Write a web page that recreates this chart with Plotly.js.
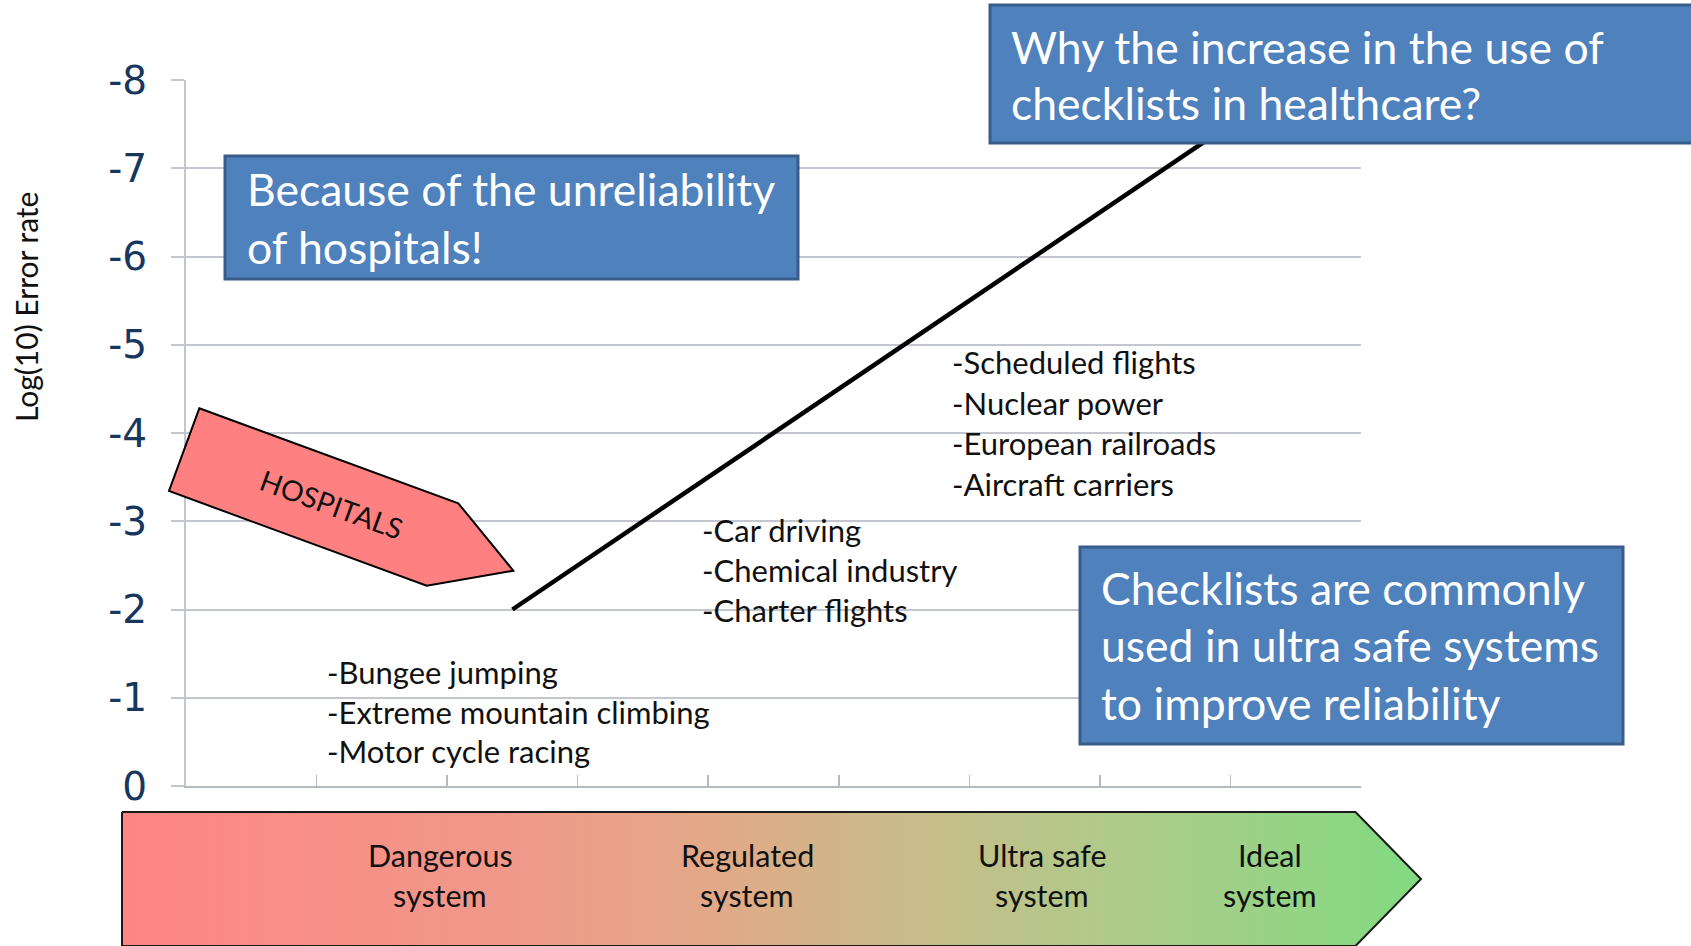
<!DOCTYPE html>
<html>
<head>
<meta charset="utf-8">
<script src="https://cdn.plot.ly/plotly-3.0.1.min.js"></script>
<style>
  html, body { margin: 0; padding: 0; background: #ffffff; }
  #chart { width: 1691px; height: 946px; }
</style>
</head>
<body>
<div id="chart"></div>
<script>
// ---------------- data ----------------
const yTickValues = [0, -1, -2, -3, -4, -5, -6, -7, -8];
const yTickLabels = ['0', '-1', '-2', '-3', '-4', '-5', '-6', '-7', '-8'];
const xTickValues = [0, 1, 2, 3, 4, 5, 6, 7, 8, 9];
const trendX = [2.5, 8.5];
const trendY = [-2, -8];
const dangerousItems = ['-Bungee jumping', '-Extreme mountain climbing', '-Motor cycle racing'];
const regulatedItems = ['-Car driving', '-Chemical industry', '-Charter flights'];
const ultraSafeItems = ['-Scheduled flights', '-Nuclear power', '-European railroads', '-Aircraft carriers'];
const systemLabels = [['Dangerous', 'system'], ['Regulated', 'system'], ['Ultra safe', 'system'], ['Ideal', 'system']];
const boxQuestion = ['Why the increase in the use of', 'checklists in healthcare?'];
const boxBecause = ['Because of the unreliability', 'of hospitals!'];
const boxChecklists = ['Checklists are commonly', 'used in ultra safe systems', 'to improve reliability'];
const arrowLabel = 'HOSPITALS';
const yAxisTitle = 'Log(10) Error rate';

// ---------------- layout helpers (pixel -> paper) ----------------
const W = 1691, H = 946;
const PX = x => x / W;
const PY = y => 1 - y / H;
const FONT = 'Lato, "Open Sans", sans-serif';
const plotLeft = 186, plotRight = 1361, plotTop = 80, plotBottom = 786;

const annotations = [];
const shapes = [];

function textLines(lines, x, y0, dy, size, color, anchor) {
  lines.forEach((t, i) => {
    annotations.push({
      xref: 'paper', yref: 'paper', x: PX(x), y: PY(y0 + i * dy),
      xanchor: anchor || 'left', yanchor: 'middle', showarrow: false,
      text: t, font: { family: FONT, size: size, color: color }
    });
  });
}

function box(x0, y0, x1, y1) {
  shapes.push({
    type: 'rect', xref: 'paper', yref: 'paper', layer: 'above',
    x0: PX(x0), x1: PX(x1), y0: PY(y1), y1: PY(y0),
    fillcolor: '#4F81BD', line: { color: '#385D8A', width: 3 }
  });
}

// Blue call-out boxes
box(225, 156, 798, 279);
box(990, 5, 1700, 143);
box(1080, 547, 1623, 744);
textLines(boxBecause, 245, 188, 58, 44.5, '#ffffff');
textLines(boxQuestion, 1009, 46.5, 56, 44.5, '#ffffff');
textLines(boxChecklists, 1099, 587, 57.5, 44.5, '#ffffff');

// Item lists
textLines(ultraSafeItems, 950, 362, 40.6, 31, '#111111');
textLines(regulatedItems, 700, 529.5, 40, 31, '#111111');
textLines(dangerousItems, 324.5, 672, 39.5, 31, '#111111');

// Hospitals arrow
const hosp = [[199.3, 408.3], [458.3, 503.3], [513.3, 570.7], [426.7, 585.7], [169, 491]];
shapes.push({
  type: 'path', xref: 'paper', yref: 'paper', layer: 'above',
  path: 'M ' + hosp.map(p => PX(p[0]).toFixed(5) + ',' + PY(p[1]).toFixed(5)).join(' L ') + ' Z',
  fillcolor: '#FF8080', line: { color: '#000000', width: 2 }
});
annotations.push({
  xref: 'paper', yref: 'paper', x: PX(331), y: PY(504), xanchor: 'center', yanchor: 'middle',
  showarrow: false, text: arrowLabel, textangle: 20,
  font: { family: FONT, size: 28.5, color: '#111111' }
});

// Y-axis title
annotations.push({
  xref: 'paper', yref: 'paper', x: PX(26), y: PY(307), xanchor: 'center', yanchor: 'middle',
  showarrow: false, text: yAxisTitle, textangle: -90,
  font: { family: FONT, size: 30, color: '#111111' }
});

// System labels on the gradient arrow
const sysX = [440, 747, 1042, 1270];
systemLabels.forEach((lines, i) => textLines(lines, sysX[i], 855, 40, 30.5, '#111111', 'center'));

// Gradient arrow geometry (pixel coords in an overlay subplot)
const bandX = [122, 1355.5, 1421, 1355.5, 122, 122];
const bandY = [812, 812, 879, 946, 946, 812];

const traces = [
  {
    x: trendX, y: trendY, type: 'scatter', mode: 'lines',
    line: { color: '#000000', width: 4.5 }, hoverinfo: 'skip', showlegend: false
  },
  {
    x: bandX, y: bandY, xaxis: 'x2', yaxis: 'y2', type: 'scatter', mode: 'lines',
    fill: 'toself',
    fillgradient: {
      type: 'horizontal',
      colorscale: [[0, '#ff8585'], [0.3, '#f0998a'], [0.45, '#e3a888'], [0.6, '#c9bb89'],
                   [0.75, '#b2c98a'], [1, '#82da82']]
    },
    line: { color: '#1a1a1a', width: 2 }, hoverinfo: 'skip', showlegend: false
  }
];

const layout = {
  width: W, height: H,
  margin: { l: 0, r: 0, t: 0, b: 0 },
  paper_bgcolor: '#ffffff', plot_bgcolor: 'rgba(0,0,0,0)',
  showlegend: false,
  xaxis: {
    domain: [PX(plotLeft), PX(plotRight)], range: [0, 9],
    showgrid: false, zeroline: false,
    showline: true, linecolor: '#b5b9c2', linewidth: 2,
    tickmode: 'array', tickvals: xTickValues, showticklabels: false,
    ticks: 'inside', ticklen: 11, tickwidth: 1.5, tickcolor: '#b5b9c2',
    fixedrange: true
  },
  yaxis: {
    domain: [PY(plotBottom), PY(plotTop)], range: [0, -8],
    showgrid: true, gridcolor: '#c3c6ce', gridwidth: 2, zeroline: false,
    showline: true, linecolor: '#c3c6ce', linewidth: 2,
    tickmode: 'array', tickvals: yTickValues, ticktext: yTickLabels,
    ticks: 'outside', ticklen: 13, tickwidth: 2, tickcolor: '#c3c6ce',
    ticklabelstandoff: 16,
    tickfont: { family: '"DejaVu Sans", Verdana, sans-serif', size: 39, color: '#17375E' },
    fixedrange: true
  },
  xaxis2: { domain: [0, 1], range: [0, W], visible: false, fixedrange: true, anchor: 'y2' },
  yaxis2: { domain: [0, PY(796)], range: [946, 796], visible: false, fixedrange: true, anchor: 'x2' },
  shapes: shapes,
  annotations: annotations
};

Plotly.newPlot('chart', traces, layout, { displayModeBar: false, staticPlot: true });
</script>
</body>
</html>
